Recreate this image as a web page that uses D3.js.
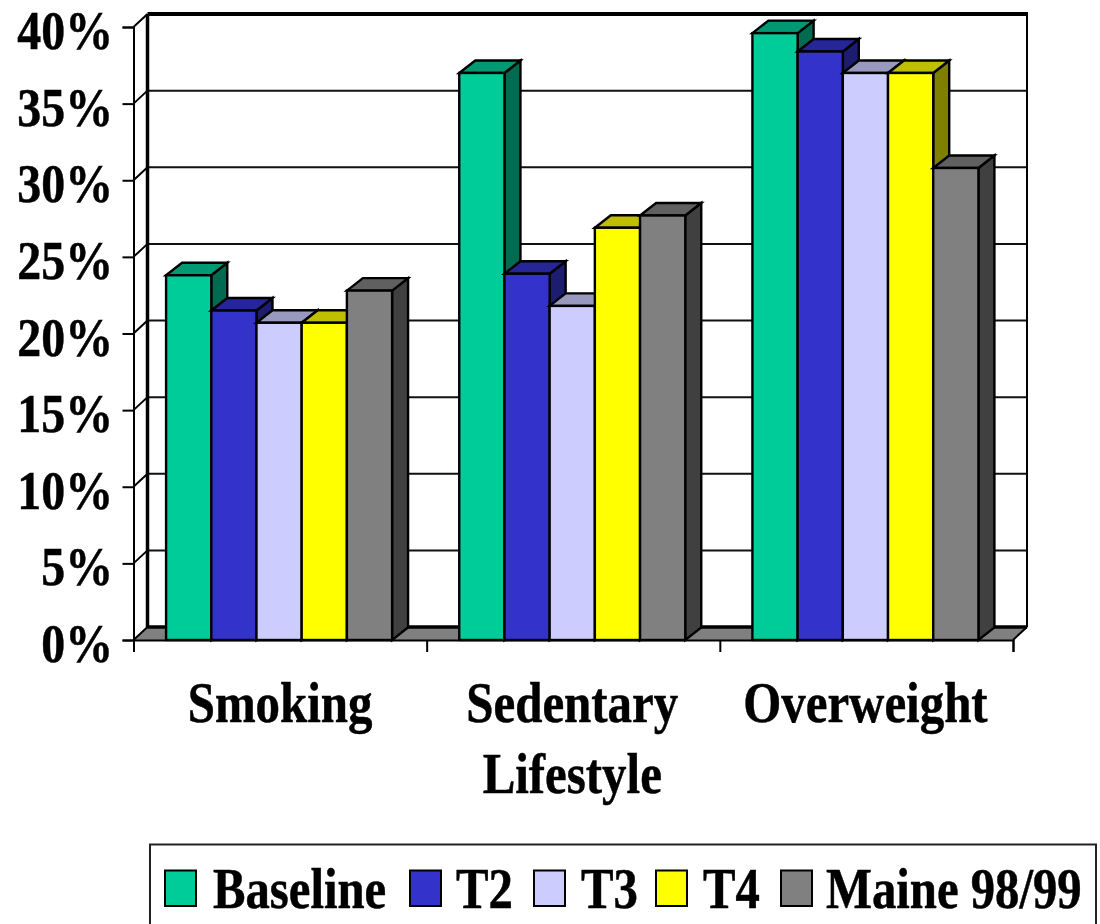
<!DOCTYPE html>
<html><head><meta charset="utf-8">
<script src="https://cdnjs.cloudflare.com/ajax/libs/d3/7.8.5/d3.min.js"></script>
<style>html,body{margin:0;padding:0;background:#fff;overflow:hidden}svg{display:block}
text{font-family:"Liberation Serif",serif;font-weight:bold;fill:#000;stroke:#000;stroke-width:0.5px}</style></head><body>
<script>
const categories = [["Smoking"], ["Sedentary", "Lifestyle"], ["Overweight"]];
const seriesNames = ["Baseline", "T2", "T3", "T4", "Maine 98/99"];
const baseline = [23.8, 37.0, 39.6];
const t2 = [21.5, 23.9, 38.4];
const t3 = [20.7, 21.8, 37.0];
const t4 = [20.7, 26.9, 37.0];
const maine = [22.8, 27.7, 30.8];
const seriesValues = [baseline, t2, t3, t4, maine];
const fronts = ["#00cc99", "#3333cc", "#ccccff", "#ffff00", "#808080"];
const tops = ["#009973", "#262699", "#9999bf", "#bfbf00", "#606060"];
const sides = ["#006b50", "#1c1c70", "#666688", "#808000", "#404040"];
const yTicks = [0, 5, 10, 15, 20, 25, 30, 35, 40];

const W = 1100, H = 924;
const svg = d3.select("body").append("svg").attr("width", W).attr("height", H);
const x = d3.scaleBand().domain(d3.range(categories.length)).range([133.5, 1013]);
const inner = d3.scaleBand().domain(d3.range(seriesNames.length)).range([-1, x.bandwidth() - 1]).paddingOuter(0.743).paddingInner(0);
const y = d3.scaleLinear().domain([0, 40]).range([640, 27]);
const wallDx = 14, wallDy = 13, barDx = 16, barDy = 12.5;
const poly = pts => pts.map(p => p.join(",")).join(" ");
const x0 = x.range()[0], x1 = x.range()[1];

// walls and gridlines
const g = svg.append("g");
yTicks.slice(1, -1).forEach(t => {
  g.append("line").attr("x1", x0 + wallDx).attr("x2", x1 + wallDx).attr("y1", y(t) - wallDy).attr("y2", y(t) - wallDy).attr("stroke", "#111").attr("stroke-width", 2);
});
g.append("polygon").attr("points", poly([[x0, y(0)], [x0 + wallDx, y(0) - wallDy], [x1 + wallDx, y(0) - wallDy], [x1, y(0)]])).attr("fill", "#808080").attr("stroke", "none");
g.append("line").attr("x1", x0 + wallDx).attr("x2", x1 + wallDx).attr("y1", y(0) - wallDy).attr("y2", y(0) - wallDy).attr("stroke", "#000").attr("stroke-width", 3.5);
g.append("line").attr("x1", x0 + wallDx).attr("x2", x1 + wallDx + 1).attr("y1", y(40) - wallDy).attr("y2", y(40) - wallDy).attr("stroke", "#000").attr("stroke-width", 4);
g.append("line").attr("x1", x0 + wallDx).attr("x2", x0 + wallDx).attr("y1", y(40) - wallDy).attr("y2", y(0) - wallDy).attr("stroke", "#000").attr("stroke-width", 3.5);
g.append("line").attr("x1", x1 + wallDx).attr("x2", x1 + wallDx).attr("y1", y(40) - wallDy).attr("y2", y(0) - wallDy).attr("stroke", "#000").attr("stroke-width", 2);
g.append("line").attr("x1", x1).attr("x2", x1 + wallDx).attr("y1", y(0)).attr("y2", y(0) - wallDy).attr("stroke", "#000").attr("stroke-width", 2);
yTicks.forEach(t => {
  g.append("line").attr("x1", x0).attr("x2", x0 + wallDx).attr("y1", y(t)).attr("y2", y(t) - wallDy).attr("stroke", "#000").attr("stroke-width", 2);
});

// bars
seriesValues.forEach((vals, s) => {
  categories.forEach((c, i) => {
    const l = x(i) + inner(s), r = l + inner.bandwidth(), t = y(vals[i]), b = y(0);
    const bg = svg.append("g").attr("stroke", "#000").attr("stroke-width", 2.4).attr("stroke-linejoin", "miter");
    bg.append("polygon").attr("points", poly([[r, t], [r + barDx, t - barDy], [r + barDx, b - barDy], [r, b]])).attr("fill", sides[s]);
    bg.append("polygon").attr("points", poly([[l, t], [l + barDx, t - barDy], [r + barDx, t - barDy], [r, t]])).attr("fill", tops[s]);
    bg.append("rect").attr("x", l).attr("y", t).attr("width", r - l).attr("height", b - t).attr("fill", fronts[s]);
  });
});

// axes
const yAxis = d3.axisLeft(y).tickValues(yTicks).tickSize(11).tickPadding(0).tickFormat(d => "");
const ya = svg.append("g").attr("transform", `translate(${x0},0)`).call(yAxis);
ya.selectAll("path,line").attr("stroke", "#000").attr("stroke-width", 2);
const xAxis = d3.axisBottom(d3.scaleLinear().domain([0, categories.length]).range([x0, x1])).tickValues(d3.range(categories.length + 1)).tickSize(12).tickFormat(d => "");
const xa = svg.append("g").attr("transform", `translate(0,${y(0)})`).call(xAxis);
xa.selectAll("path,line").attr("stroke", "#000").attr("stroke-width", 2);

const label = (tx, ty, size, sx, anchor, str) =>
  svg.append("text").attr("text-anchor", anchor).attr("font-size", size)
    .attr("transform", `translate(${tx},${ty}) scale(${sx},1)`).text(str);

// tick labels
yTicks.forEach(t => label(113, y(t) + 22, 55, 0.87, "end", t + "%"));
categories.forEach((lines, i) => {
  lines.forEach((ln, j) => {
    label(x(i) + x.bandwidth() / 2 - (i === 0 ? 0 : 1), 722 + j * 71, 57, 0.858, "middle", ln);
  });
});

// legend
svg.append("rect").attr("x", 150).attr("y", 844.5).attr("width", 946).attr("height", 200).attr("fill", "#fff").attr("stroke", "#222").attr("stroke-width", 2);
const legendX = [165, 410, 534, 656, 781];
const legendTextX = [213, 456, 581, 703, 826];
seriesNames.forEach((n, i) => {
  svg.append("rect").attr("x", legendX[i]).attr("y", 870.5).attr("width", 31).attr("height", 35.5).attr("fill", fronts[i]).attr("stroke", "#000").attr("stroke-width", 2);
  label(legendTextX[i], 908, 56, 0.87, "start", n);
});
</script></body></html>
